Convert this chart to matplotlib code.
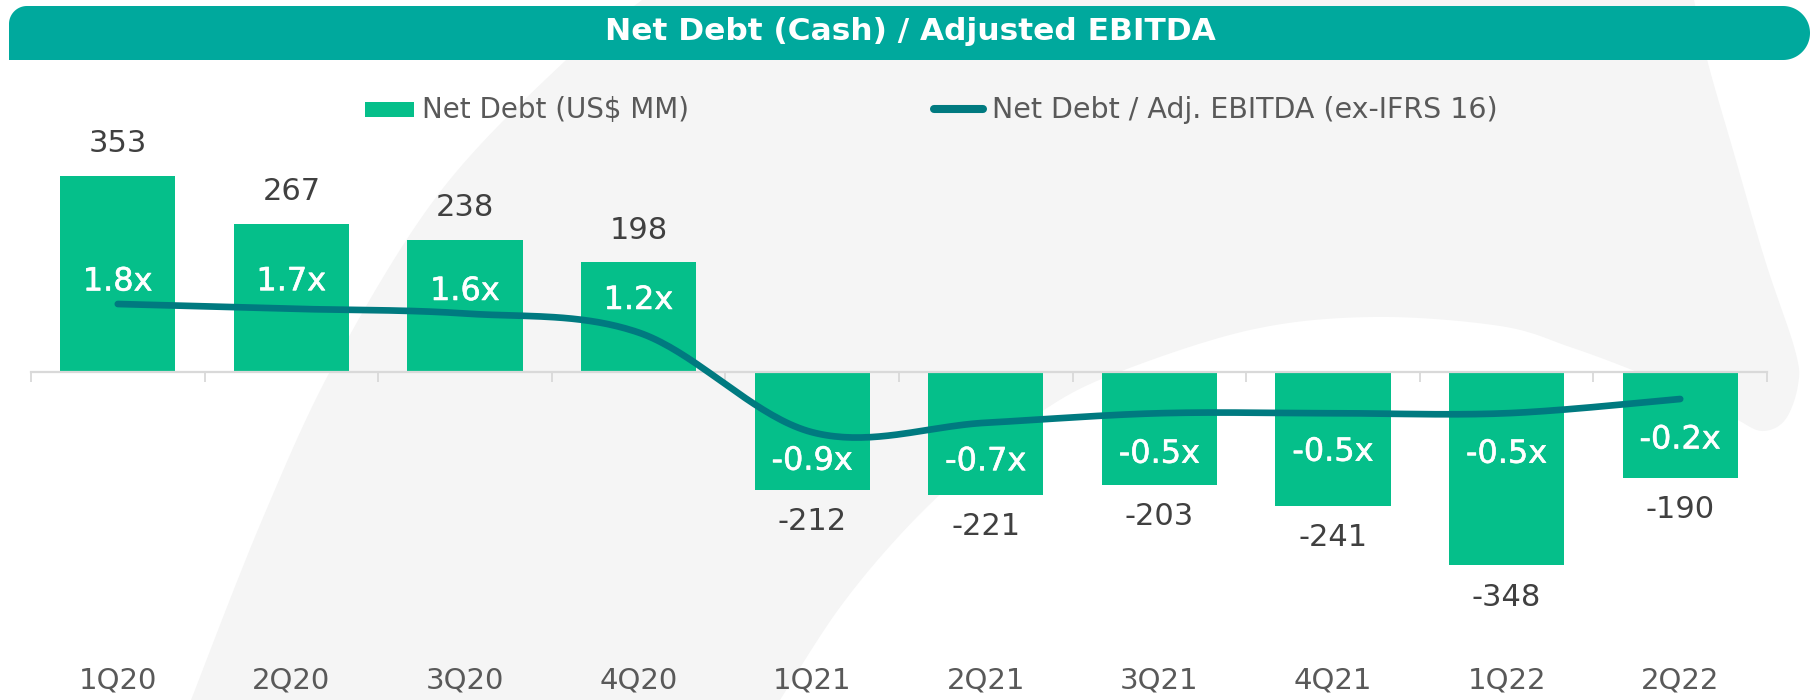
import numpy as np
import matplotlib
matplotlib.use("Agg")
import matplotlib.pyplot as plt
from matplotlib.patches import Rectangle, Polygon
from matplotlib.lines import Line2D
import matplotlib.transforms as mtransforms
import matplotlib.patheffects as pe

# ---------------- data ----------------
categories = ["1Q20", "2Q20", "3Q20", "4Q20", "1Q21", "2Q21", "3Q21", "4Q21", "1Q22", "2Q22"]
net_debt = [353, 267, 238, 198, -212, -221, -203, -241, -348, -190]
ratio = [1.8, 1.7, 1.6, 1.2, -0.9, -0.7, -0.5, -0.5, -0.5, -0.2]
ratio_labels = ["1.8x", "1.7x", "1.6x", "1.2x", "-0.9x", "-0.7x", "-0.5x", "-0.5x", "-0.5x", "-0.2x"]
title = "Net Debt (Cash) / Adjusted EBITDA"
legend_bar = "Net Debt (US$ MM)"
legend_line = "Net Debt / Adj. EBITDA (ex-IFRS 16)"

# ---------------- style ----------------
BAR = "#05BF8A"
LINE = "#007A80"
TEAL = "#00A99D"
BG = "#F5F5F5"
DARK = "#404040"
GRAY = "#595959"
AXIS = "#D9D9D9"
# label offsets (pixels) from the ratio line point
ratio_label_offsets_px = [22, 27, 22, 32, -29, -39, -41, -39, -41, -41]

plt.rcParams["font.family"] = ["DejaVu Sans"]

W, H = 1813, 700
fig = plt.figure(figsize=(W / 100, H / 100), dpi=100)
fig.patch.set_facecolor("white")


def catmull(px, py, n=40):
    px = np.asarray(px, float)
    py = np.asarray(py, float)
    P = np.column_stack([px, py])
    P = np.vstack([P[0], P, P[-1]])
    out = []
    t = np.linspace(0, 1, n)[:, None]
    for i in range(1, len(P) - 2):
        p0, p1, p2, p3 = P[i - 1], P[i], P[i + 1], P[i + 2]
        seg = 0.5 * (2 * p1 + (-p0 + p2) * t + (2 * p0 - 5 * p1 + 4 * p2 - p3) * t ** 2
                     + (-p0 + 3 * p1 - 3 * p2 + p3) * t ** 3)
        out.append(seg if i == 1 else seg[1:])
    return np.vstack(out)


# ---------------- background decorative shape (pixel coords) ----------------
bg = fig.add_axes([0, 0, 1, 1], zorder=0)
bg.set_xlim(0, W)
bg.set_ylim(H, 0)
bg.axis("off")
left_edge = [(191, 700), (262, 520), (335, 362), (440, 192), (566, 60), (642, 0)]
right_edge = [(1694, 0), (1708, 63), (1733, 150), (1765, 260), (1795, 350), (1798, 385),
              (1785, 420), (1762, 431), (1736, 419), (1700, 400), (1637, 372), (1570, 347),
              (1500, 326), (1373, 317), (1250, 330), (1114, 374), (1041, 412),
              (965, 472), (900, 535), (838, 610), (780, 700)]
le = catmull(*zip(*left_edge))
re = catmull(*zip(*right_edge))
shape = np.vstack([le, re, [[191, 700]]])
bg.add_patch(Polygon(shape, closed=True, facecolor=BG, edgecolor="none"))

# ---------------- main chart ----------------
ax_left, ax_right = 31, 1767
ax_top, ax_bot = 140, 620
ax = fig.add_axes([ax_left / W, (H - ax_bot) / H, (ax_right - ax_left) / W, (ax_bot - ax_top) / H], zorder=1)
ax.patch.set_alpha(0)
x = np.arange(len(categories))
ax.bar(x, net_debt, width=0.663, color=BAR, zorder=2)
ax.set_xlim(-0.5, len(categories) - 0.5)
ax.set_ylim(-446.4, 417.6)
for s in ["top", "right", "left"]:
    ax.spines[s].set_visible(False)
ax.spines["bottom"].set_position(("data", 0))
ax.spines["bottom"].set_color(AXIS)
ax.spines["bottom"].set_linewidth(1.6)
ax.set_yticks([])
ax.set_xticks(np.arange(-0.5, len(categories), 1.0))
ax.tick_params(axis="x", direction="out", length=7.5, width=1.3, color=AXIS, labelbottom=False)

trans = mtransforms.blended_transform_factory(ax.transData, ax.transAxes)
for i, c in enumerate(categories):
    ax.text(i, (ax_bot - 681) / (ax_bot - ax_top), c, transform=trans, ha="center", va="center",
            fontsize=21, color=GRAY)

for i, v in enumerate(net_debt):
    off = 23 if v > 0 else -23
    ax.annotate(f"{v}", (i, v), xytext=(0, off), textcoords="offset points",
                ha="center", va="center", fontsize=22, color=DARK, zorder=5)

# secondary axis: ratio line
ax2 = ax.twinx()
ax2.set_zorder(2)
ax2.patch.set_alpha(0)
ax2.set_ylim(-4.853, 5.253)
ax2.axis("off")
curve = catmull(x, ratio, n=40)
ax2.plot(curve[:, 0], curve[:, 1], color=LINE, lw=4.8, solid_capstyle="round", zorder=3)
for i, (v, lab) in enumerate(zip(ratio, ratio_labels)):
    off = ratio_label_offsets_px[i] * 0.72
    ax2.annotate(lab, (i, v), xytext=(0, off), textcoords="offset points",
                 ha="center", va="center", fontsize=23, color="white", zorder=6,
                 path_effects=[pe.withStroke(linewidth=0.4, foreground="white")])

# ---------------- overlay: title banner & legend (pixel coords) ----------------
ov = fig.add_axes([0, 0, 1, 1], zorder=3)
ov.set_xlim(0, W)
ov.set_ylim(H, 0)
ov.axis("off")
ov.patch.set_alpha(0)

top, bot, left, right = 6, 60, 9, 1810
r = (bot - top) / 2
cx = right - r
ang = np.linspace(-np.pi / 2, np.pi / 2, 60)
rl = 18
corner = np.linspace(np.pi, 1.5 * np.pi, 30)
banner = [(left, bot)]
banner += [(left + rl + rl * np.cos(a), top + rl + rl * np.sin(a)) for a in corner]
banner += [(cx + r * np.cos(a), top + r + r * np.sin(a)) for a in ang]
ov.add_patch(Polygon(banner, closed=True, facecolor=TEAL, edgecolor="none"))
ov.text(910, 32, title, ha="center", va="center", fontsize=22.5, fontweight="bold", color="white")

ov.add_patch(Rectangle((365, 102), 49, 15, facecolor=BAR, edgecolor="none"))
ov.text(422, 110, legend_bar, ha="left", va="center", fontsize=20, color=GRAY)
ov.add_line(Line2D([934, 983], [109, 109], color=LINE, lw=5.8, solid_capstyle="round"))
ov.text(992, 110, legend_line, ha="left", va="center", fontsize=20.5, color=GRAY)

fig.savefig("out.png", dpi=100)
